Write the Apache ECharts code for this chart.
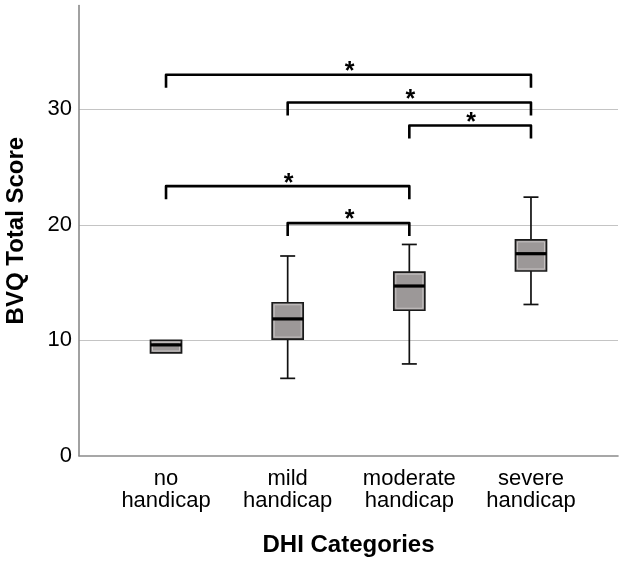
<!DOCTYPE html>
<html>
<head>
<meta charset="utf-8">
<script src="https://cdn.jsdelivr.net/npm/echarts@6/dist/echarts.min.js"></script>
<style>html,body{margin:0;padding:0;background:#fff;}#c{width:624px;height:563px;}</style>
</head>
<body>
<div id="c"></div>
<script>
// ---- data ----
var categories = ['no\nhandicap', 'mild\nhandicap', 'moderate\nhandicap', 'severe\nhandicap'];
// [min, q1, median, q3, max]
var boxNo       = [8.9, 8.9, 9.6, 10.0, 10.0];
var boxMild     = [6.7, 10.1, 11.85, 13.25, 17.3];
var boxModerate = [7.95, 12.6, 14.7, 15.9, 18.3];
var boxSevere   = [13.1, 16.0, 17.5, 18.7, 22.4];
// brackets: [fromCategoryIndex, toCategoryIndex, height]
var brackets = [
  [0, 3, 33.0],
  [1, 3, 30.6],
  [2, 3, 28.6],
  [0, 2, 23.35],
  [1, 2, 20.15]
];
var yTicks = { min: 0, max: 39, interval: 10 };

var boxes = [boxNo, boxMild, boxModerate, boxSevere];
var boxData = boxes.map(function (b, i) { return [i].concat(b); });

var FONT = 'Liberation Sans, Arial, sans-serif';
var chart = echarts.init(document.getElementById('c'), null, { renderer: 'canvas' });

function boxRender(params, api) {
  var x = api.value(0);
  var pMin = api.coord([x, api.value(1)]);
  var pQ1 = api.coord([x, api.value(2)]);
  var pMed = api.coord([x, api.value(3)]);
  var pQ3 = api.coord([x, api.value(4)]);
  var pMax = api.coord([x, api.value(5)]);
  var c = pMed[0];
  var hw = 15.5, cw = 7.5;
  var blk = '#111';
  var children = [];
  children.push({ type: 'line', shape: { x1: c, y1: pMax[1], x2: c, y2: pQ3[1] }, style: { stroke: blk, lineWidth: 1.7 } });
  children.push({ type: 'line', shape: { x1: c, y1: pQ1[1], x2: c, y2: pMin[1] }, style: { stroke: blk, lineWidth: 1.7 } });
  if (pMax[1] < pQ3[1] - 0.5) children.push({ type: 'line', shape: { x1: c - cw, y1: pMax[1], x2: c + cw, y2: pMax[1] }, style: { stroke: blk, lineWidth: 1.7 } });
  if (pMin[1] > pQ1[1] + 0.5) children.push({ type: 'line', shape: { x1: c - cw, y1: pMin[1], x2: c + cw, y2: pMin[1] }, style: { stroke: blk, lineWidth: 1.7 } });
  children.push({ type: 'rect', shape: { x: c - hw, y: pQ3[1], width: 2 * hw, height: pQ1[1] - pQ3[1] }, style: { fill: '#9c9898', stroke: '#1a1a1a', lineWidth: 1.7 } });
  children.push({ type: 'rect', shape: { x: c - hw + 2, y: pQ3[1] + 2, width: 2 * hw - 4, height: Math.max(0, pQ1[1] - pQ3[1] - 4) }, style: { fill: 'none', stroke: '#c6c2c2', lineWidth: 1 } });
  children.push({ type: 'line', shape: { x1: c - hw, y1: pMed[1], x2: c + hw, y2: pMed[1] }, style: { stroke: '#000', lineWidth: 3.2 } });
  return { type: 'group', children: children };
}

function bracketRender(params, api) {
  var a = api.coord([api.value(0), api.value(2)]);
  var b = api.coord([api.value(1), api.value(2)]);
  var leg = 13;
  return {
    type: 'group',
    children: [
      { type: 'polyline', shape: { points: [[a[0], a[1] + leg], [a[0], a[1]], [b[0], b[1]], [b[0], b[1] + leg]] },
        style: { stroke: '#000', lineWidth: 2.6, fill: 'none', lineJoin: 'round' } },
      { type: 'text', style: { text: '*', x: (a[0] + b[0]) / 2 + 1, y: a[1] + 10, align: 'center', verticalAlign: 'bottom',
        fontSize: 25, fontFamily: FONT, fontWeight: 'bold', fill: '#000' } }
    ]
  };
}

var option = {
  backgroundColor: '#fff',
  animation: false,
  grid: [
    { left: 79, right: 6, top: 5.5, bottom: 107.3, containLabel: false, outerBoundsMode: 'none' },
    { left: 105.2, right: 32.2, top: 5.5, bottom: 107.3, containLabel: false, outerBoundsMode: 'none' }
  ],
  xAxis: [
    { type: 'value', gridIndex: 0, min: 0, max: 1,
      name: 'DHI Categories', nameLocation: 'middle', nameGap: 78,
      nameTextStyle: { fontSize: 24, fontWeight: 'bold', fontFamily: FONT, color: '#000' },
      axisLine: { show: true, onZero: false, lineStyle: { color: '#8a8a8a', width: 1.6 } },
      axisTick: { show: false }, axisLabel: { show: false }, splitLine: { show: false } },
    { type: 'category', gridIndex: 1, data: categories,
      axisLine: { show: false }, axisTick: { show: false },
      axisLabel: { interval: 0, fontSize: 22, lineHeight: 22, margin: 12, color: '#000', fontFamily: FONT } }
  ],
  yAxis: [
    { type: 'value', gridIndex: 0, min: yTicks.min, max: yTicks.max, interval: yTicks.interval,
      name: 'BVQ Total Score', nameLocation: 'middle', nameGap: 51,
      nameTextStyle: { fontSize: 24, fontWeight: 'bold', fontFamily: FONT, color: '#000' },
      axisLine: { show: true, lineStyle: { color: '#8a8a8a', width: 1.6 } },
      axisTick: { show: false },
      axisLabel: { fontSize: 22, color: '#000', margin: 7, fontFamily: FONT, showMaxLabel: false },
      splitLine: { show: true, showMinLine: false, showMaxLine: false, lineStyle: { color: '#c4c4c4', width: 1.2 } } },
    { type: 'value', gridIndex: 1, min: yTicks.min, max: yTicks.max, interval: yTicks.interval, show: false,
      splitLine: { show: false } }
  ],
  series: [
    { type: 'custom', xAxisIndex: 1, yAxisIndex: 1, renderItem: boxRender, data: boxData,
      encode: { x: 0, y: [1, 2, 3, 4, 5] }, clip: false },
    { type: 'custom', xAxisIndex: 1, yAxisIndex: 1, renderItem: bracketRender, data: brackets,
      encode: { x: [0, 1], y: 2 }, clip: false }
  ]
};
chart.setOption(option);
</script>
</body>
</html>
